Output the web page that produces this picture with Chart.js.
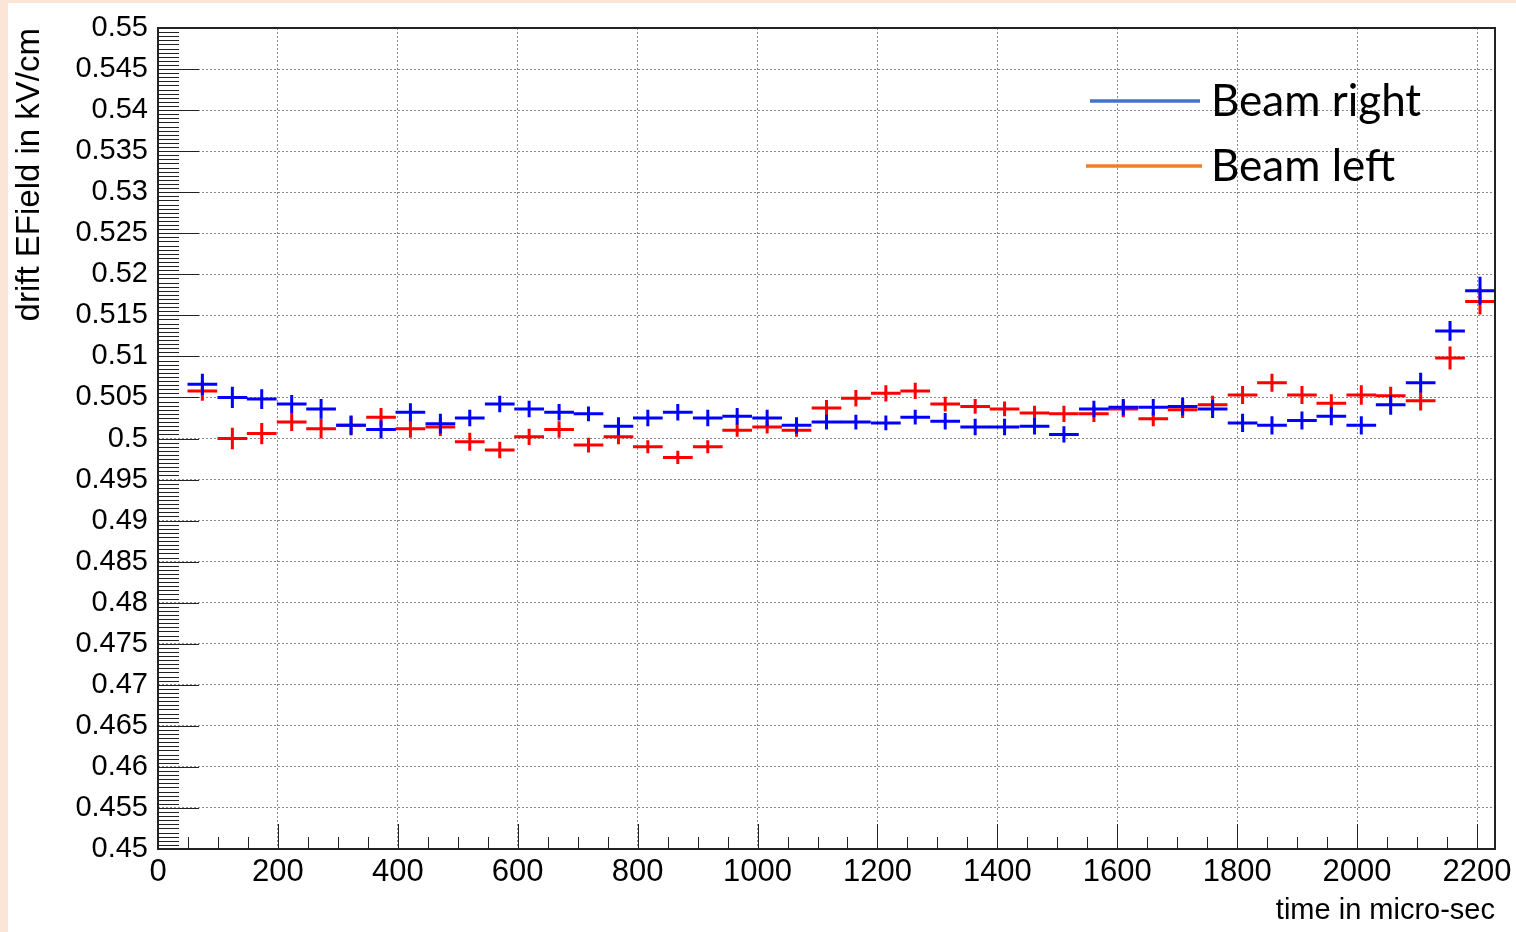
<!DOCTYPE html>
<html>
<head>
<meta charset="utf-8">
<script src="https://cdn.jsdelivr.net/npm/chart.js@4"></script>
<style>
    html, body { margin: 0; padding: 0; background: #fbe5d6; }
    #sheet { position: absolute; left: 8px; top: 3px; width: 1508px; height: 929px; background: #fff; }
    #chart { position: absolute; left: 0; top: 0; }
</style>
</head>
<body>
<div id="sheet"></div>
<canvas id="chart" width="1516" height="932"></canvas>
<script>

// bin centres, micro-sec (bins are ~49.55 wide, first bin 0-49.5 is empty)
const times = [74, 124, 173, 223, 272, 322, 372, 421, 471, 520, 570, 619, 669, 718, 768, 817, 867, 917, 966, 1016,
    1065, 1115, 1164, 1214, 1263, 1313, 1363, 1412, 1462, 1511, 1561, 1610, 1660, 1709, 1759, 1809, 1858, 1908, 1957, 2007,
    2056, 2106, 2155, 2205];
const binWidth = 49.55;

const xTickValues = [0, 200, 400, 600, 800, 1000, 1200, 1400, 1600, 1800, 2000, 2200];
const yTickValues = [0.45, 0.455, 0.46, 0.465, 0.47, 0.475, 0.48, 0.485, 0.49, 0.495, 0.5,
    0.505, 0.51, 0.515, 0.52, 0.525, 0.53, 0.535, 0.54, 0.545, 0.55];

const seriesNames = ['Beam right', 'Beam left'];

const beamRight = [0.5066, 0.5050, 0.5048, 0.5042, 0.5036, 0.5016, 0.5011, 0.5032, 0.5018, 0.5025, 0.5042, 0.5036, 0.5032, 0.5030,
    0.5015, 0.5025, 0.5032, 0.5025, 0.5027, 0.5025, 0.5016, 0.5020, 0.5020, 0.5019, 0.5026, 0.5021, 0.5014, 0.5014, 0.5015,
    0.5005, 0.5036, 0.5038, 0.5038, 0.5039, 0.5036, 0.5019, 0.5016, 0.5022, 0.5027, 0.5016, 0.5041, 0.5068, 0.5131, 0.5180];
const beamRightErr = [0.0013, 0.0013, 0.0012, 0.0011, 0.0012, 0.0012, 0.0011, 0.0011, 0.0012, 0.0010, 0.0010, 0.0010, 0.0010, 0.0009,
    0.0011, 0.0010, 0.0010, 0.0010, 0.0010, 0.0010, 0.0010, 0.0009, 0.0009, 0.0009, 0.0009, 0.0010, 0.0010, 0.0010, 0.0010,
    0.0010, 0.0010, 0.0010, 0.0010, 0.0011, 0.0011, 0.0011, 0.0011, 0.0011, 0.0011, 0.0011, 0.0012, 0.0012, 0.0012, 0.0017];

const beamLeft = [0.5058, 0.5000, 0.5006, 0.5020, 0.5012, 0.5016, 0.5026, 0.5012, 0.5014, 0.4996, 0.4986, 0.5002, 0.5011, 0.4992,
    0.5002, 0.4990, 0.4977, 0.4990, 0.5010, 0.5014, 0.5010, 0.5037, 0.5049, 0.5055, 0.5058, 0.5042, 0.5039, 0.5036, 0.5031,
    0.5030, 0.5030, 0.5036, 0.5024, 0.5035, 0.5041, 0.5053, 0.5068, 0.5053, 0.5043, 0.5053, 0.5052, 0.5046, 0.5098, 0.5167];
const beamLeftErr = [0.0012, 0.0013, 0.0013, 0.0011, 0.0012, 0.0011, 0.0011, 0.0011, 0.0011, 0.0011, 0.0010, 0.0010, 0.0010, 0.0009,
    0.0009, 0.0008, 0.0008, 0.0008, 0.0008, 0.0008, 0.0008, 0.0010, 0.0010, 0.0010, 0.0010, 0.0009, 0.0009, 0.0009, 0.0009,
    0.0010, 0.0010, 0.0010, 0.0009, 0.0010, 0.0011, 0.0011, 0.0011, 0.0011, 0.0011, 0.0012, 0.0011, 0.0012, 0.0014, 0.0016];

const xTitle = 'time in micro-sec';
const yTitle = 'drift EField in kV/cm';


const toPoints = (ys) => ys.map((y, i) => ({ x: times[i], y: y }));

// ROOT-like crosses: bin-wide horizontal bar + vertical error bar
const errorCrosses = {
    id: 'errorCrosses',
    afterDatasetsDraw(chart) {
        const { ctx, scales: { x, y }, chartArea: a } = chart;
        ctx.save();
        ctx.beginPath();
        ctx.rect(a.left, a.top, a.right - a.left, a.bottom - a.top);
        ctx.clip();
        ctx.lineWidth = 3;
        ctx.lineCap = 'butt';
        chart.data.datasets.forEach(ds => {
            ctx.strokeStyle = ds.borderColor;
            ds.data.forEach((p, i) => {
                let px = x.getPixelForValue(p.x);
                let py = y.getPixelForValue(p.y);
                ctx.beginPath();
                ctx.moveTo(x.getPixelForValue(p.x - binWidth / 2), py);
                ctx.lineTo(x.getPixelForValue(p.x + binWidth / 2), py);
                ctx.moveTo(px, y.getPixelForValue(p.y + ds.errors[i]));
                ctx.lineTo(px, y.getPixelForValue(p.y - ds.errors[i]));
                ctx.stroke();
            });
        });
        ctx.restore();
    }
};

// inward ticks, frame box, and the legend pasted on top
const rootFrame = {
    id: 'rootFrame',
    afterDraw(chart) {
        const { ctx, scales: { x, y }, chartArea: a } = chart;
        ctx.save();
        ctx.strokeStyle = '#222';
        ctx.lineWidth = 1;
        ctx.beginPath();
        for (let i = 0; i <= 200; i++) {
            let py = Math.round(y.getPixelForValue(y.min + i * 0.0005)) + 0.5;
            let len = i % 10 === 0 ? 41 : 21;
            ctx.moveTo(a.left, py);
            ctx.lineTo(a.left + len, py);
        }
        for (let t = 0; t <= 2200; t += 50) {
            let px = Math.round(x.getPixelForValue(t)) + 0.5;
            let len = t % 200 === 0 ? 25 : 12;
            ctx.moveTo(px, a.bottom);
            ctx.lineTo(px, a.bottom - len);
        }
        ctx.stroke();
        ctx.lineWidth = 2;
        ctx.strokeRect(a.left, a.top, a.right - a.left, a.bottom - a.top);

        const legendRows = [
            { x1: 1090, x2: 1200, ly: 101, ty: 116 },
            { x1: 1086, x2: 1202, ly: 166, ty: 181 },
        ];
        chart.data.datasets.forEach((ds) => {
            let r = legendRows[seriesNames.indexOf(ds.label)];
            ctx.strokeStyle = ds.legendColor;
            ctx.lineWidth = 3.5;
            ctx.beginPath();
            ctx.moveTo(r.x1, r.ly);
            ctx.lineTo(r.x2, r.ly);
            ctx.stroke();
            ctx.fillStyle = '#000';
            ctx.font = '44px Lato, "Noto Sans", sans-serif';
            ctx.textBaseline = 'alphabetic';
            ctx.textAlign = 'left';
            ctx.fillText(ds.label, 1211, r.ty);
        });
        ctx.restore();
    }
};

Chart.defaults.font.family = '"Liberation Sans", Arial, sans-serif';
Chart.defaults.color = '#000';

new Chart(document.getElementById('chart'), {
    type: 'scatter',
    data: {
        datasets: [
            {
                label: seriesNames[1],
                data: toPoints(beamLeft),
                errors: beamLeftErr,
                borderColor: '#ff0000',
                legendColor: '#ed7d31',
                pointRadius: 0,
                showLine: false,
            },
            {
                label: seriesNames[0],
                data: toPoints(beamRight),
                errors: beamRightErr,
                borderColor: '#0000ff',
                legendColor: '#4472c4',
                pointRadius: 0,
                showLine: false,
            },
        ]
    },
    options: {
        responsive: false,
        animation: false,
        devicePixelRatio: 1,
        layout: { padding: { left: 0, top: 28, right: 21, bottom: 0 } },
        plugins: { legend: { display: false }, tooltip: { enabled: false } },
        scales: {
            x: {
                type: 'linear',
                min: 0,
                max: 2230,
                afterBuildTicks: (s) => { s.ticks = xTickValues.map(v => ({ value: v })); },
                afterFit: (s) => { s.height = 83; s.paddingLeft = 0; s.paddingRight = 0; },
                ticks: {
                    autoSkip: false,
                    maxRotation: 0,
                    minRotation: 0,
                    padding: 5,
                    font: { size: 31 },
                    callback: (v) => String(v),
                },
                grid: { color: '#8a8a8a', lineWidth: 1, drawTicks: false },
                border: { display: false, dash: [2, 2] },
                title: { display: true, text: xTitle, align: 'end', font: { size: 29 }, padding: { top: 0, bottom: 4 } },
            },
            y: {
                min: 0.45,
                max: 0.55,
                afterBuildTicks: (s) => { s.ticks = yTickValues.map(v => ({ value: v })); },
                afterFit: (s) => { s.width = 158; s.paddingTop = 0; s.paddingBottom = 0; },
                ticks: {
                    autoSkip: false,
                    padding: 10,
                    font: { size: 29 },
                    callback: (v) => String(+v.toFixed(4)),
                },
                grid: { color: '#8a8a8a', lineWidth: 1, drawTicks: false },
                border: { display: false, dash: [2, 2] },
                title: { display: true, text: yTitle, align: 'end', font: { size: 33 }, padding: { top: 10, bottom: 0 } },
            },
        },
    },
    plugins: [errorCrosses, rootFrame],
});

</script>
</body>
</html>
